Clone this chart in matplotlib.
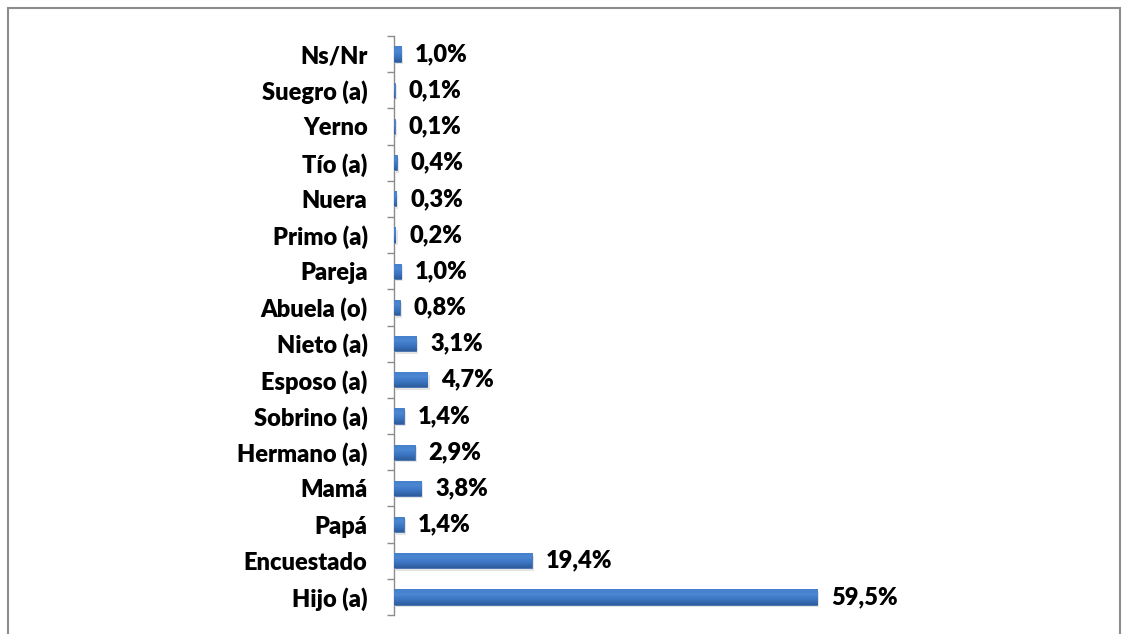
import matplotlib
matplotlib.use("Agg")
import matplotlib.pyplot as plt
import numpy as np
from matplotlib.patches import Rectangle
from matplotlib.colors import LinearSegmentedColormap

categories = ["Hijo (a)", "Encuestado", "Papá", "Mamá", "Hermano (a)", "Sobrino (a)",
              "Esposo (a)", "Nieto (a)", "Abuela (o)", "Pareja", "Primo (a)", "Nuera",
              "Tío (a)", "Yerno", "Suegro (a)", "Ns/Nr"]
values = [59.5, 19.4, 1.4, 3.8, 2.9, 1.4, 4.7, 3.1, 0.8, 1.0, 0.2, 0.3, 0.4, 0.1, 0.1, 1.0]
labels = ["59,5%", "19,4%", "1,4%", "3,8%", "2,9%", "1,4%", "4,7%", "3,1%", "0,8%",
          "1,0%", "0,2%", "0,3%", "0,4%", "0,1%", "0,1%", "1,0%"]

plt.rcParams['font.family'] = ['Lato', 'DejaVu Sans']

W, H = 1122, 634
fig = plt.figure(figsize=(W / 100, H / 100), dpi=100)
fig.patch.set_facecolor("white")

# outer frame
fig.patches.append(Rectangle((8 / W, -0.05), (1120 - 8) / W, 1 - 8 / H + 0.05,
                             transform=fig.transFigure, fill=False,
                             edgecolor="#8c8c8c", linewidth=1.5))

ax = fig.add_axes([394 / W, 1 - 615 / H, (1105 - 394) / W, (615 - 36) / H])
y = np.arange(len(categories))

# shadow
ax.barh(y - 0.07, values, height=0.42, left=0.3, color="#c4c4c4", alpha=0.45, zorder=1)
bars = ax.barh(y, values, height=0.42, color="#3a70bb", edgecolor="#3563a8",
               linewidth=0.5, zorder=2)

cmap = LinearSegmentedColormap.from_list("g", ["#2e5d9e", "#3b74c0", "#4a86d2", "#4580cc"])
grad = np.linspace(0, 1, 64).reshape(-1, 1)
for b in bars:
    x0, y0 = b.get_x(), b.get_y()
    w, h = b.get_width(), b.get_height()
    im = ax.imshow(grad, cmap=cmap, aspect="auto", origin="lower",
                   extent=(x0, x0 + w, y0, y0 + h), zorder=3)
    im.set_clip_path(b)

for yi, v, lab in zip(y, values, labels):
    ax.annotate(lab, (v, yi), xytext=(14, 0), textcoords="offset pixels",
                va="center", ha="left", fontsize=17, fontweight="heavy", color="black")

ax.set_xlim(0, 100)
ax.set_ylim(-0.5, len(categories) - 0.5)
ax.set_yticks(y)
ax.set_yticklabels(categories, fontsize=17, fontweight="heavy")
ax.set_yticks(np.arange(-0.5, len(categories), 1), minor=True)
ax.tick_params(axis="y", which="major", length=0, pad=19)
ax.tick_params(axis="y", which="minor", length=5, direction="out", color="#8c8c8c", width=1)
ax.set_xticks([])
for s in ["top", "right", "bottom"]:
    ax.spines[s].set_visible(False)
ax.spines["left"].set_color("#8c8c8c")
ax.spines["left"].set_linewidth(1)
ax.patch.set_alpha(0)

fig.savefig("out.png", dpi=100)
